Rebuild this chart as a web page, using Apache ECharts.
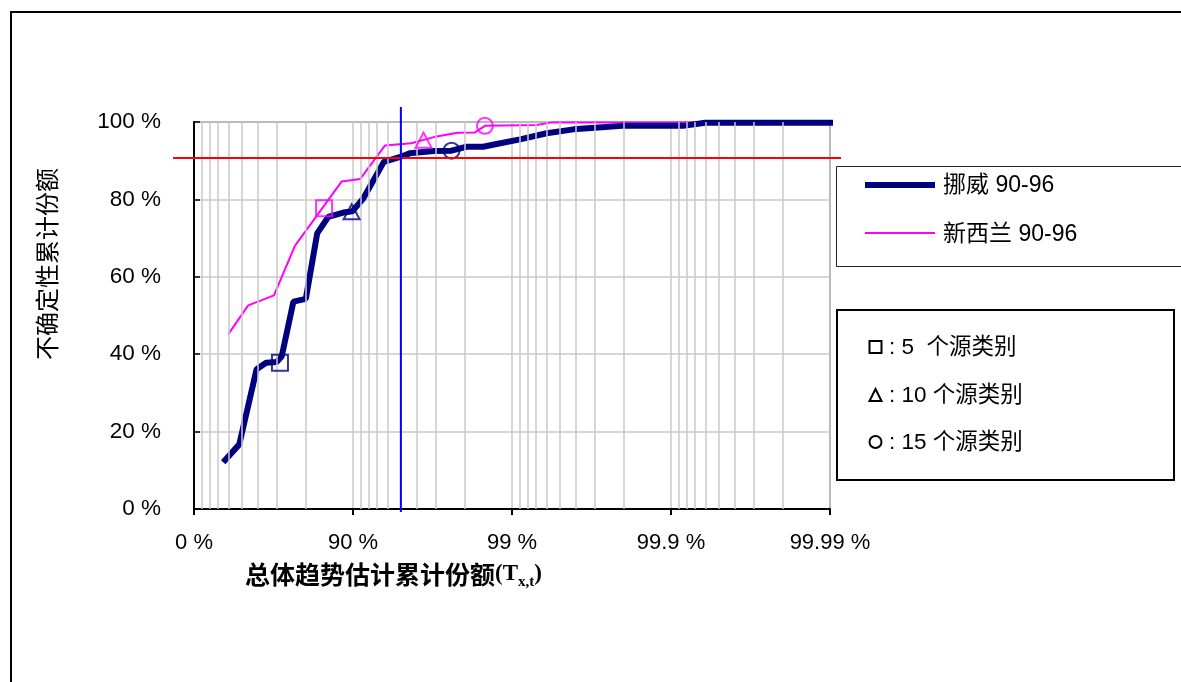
<!DOCTYPE html>
<html><head><meta charset="utf-8">
<script src="https://cdn.jsdelivr.net/npm/echarts@6/dist/echarts.min.js"></script>
<style>html,body{margin:0;padding:0;background:#fff}#c{width:1181px;height:682px}</style>
</head><body><div id="c"></div>
<script>
// ---- data (T = cumulative share of total trend estimate, %; share = cumulative uncertainty share, %) ----
const xTickLabels = ['0 %', '90 %', '99 %', '99.9 %', '99.99 %'];
const seriesNames = ['挪威 90-96', '新西兰 90-96'];
const norwayT = [34.5, 48.1, 59.6, 64.8, 69.8, 71.9, 76.3, 80.2, 83.2, 85.7, 88.5, 89.9, 91.4, 93.6, 94.9, 95.6, 96.9, 97.6, 98.07, 98.48, 98.75, 99.11, 99.395, 99.589, 99.70, 99.796, 99.916, 99.939, 99.991];
const norwayShare = [12.1, 16.7, 36.1, 37.8, 38.0, 39.4, 53.6, 54.3, 71.2, 75.5, 76.6, 76.9, 80.3, 89.7, 90.9, 91.9, 92.5, 92.6, 93.6, 93.6, 94.3, 95.5, 97.1, 98.1, 98.5, 99.0, 99.0, 99.8, 99.8];
const nzT = [39.2, 54.4, 68.6, 76.8, 88.2, 91.0, 93.7, 95.7, 96.9, 97.8, 98.29, 98.52, 99.30, 99.44, 99.991];
const nzShare = [45.2, 52.6, 55.2, 68.0, 84.6, 85.3, 93.9, 94.5, 96.1, 97.2, 97.3, 99.0, 99.2, 99.9, 99.9];
const markerLabels = [': 5  个源类别', ': 10 个源类别', ': 15 个源类别'];
const markerSymbols = ['rect', 'triangle', 'circle'];
const norwayMarkerT = [71.2, 89.8, 97.6];
const norwayMarkerShare = [37.8, 76.8, 92.6];
const nzMarkerT = [84.8, 96.4, 98.52];
const nzMarkerShare = [77.7, 95.3, 99.0];
const thresholdShare = 90.7;
const thresholdT = 95;
const yTitle = '不确定性累计份额';

const NAVY = '#000080', MAG = '#ff00ff';
const toAxis = T => -Math.log10(1 - T / 100);
const pts = (xs, ys) => xs.map((t, i) => [toAxis(t), ys[i]]);

// minor (log) grid positions within each decade of (1 - T)
const minorPos = [];
for (let d = 0; d < 4; d++) for (let k = 9; k >= 2; k--) minorPos.push(d - Math.log10(k / 10));

const latin = 'Liberation Sans, Arial, sans-serif';
const cjk = 'Liberation Sans, "Noto Sans CJK SC", sans-serif';

const chart = echarts.init(document.getElementById('c'));
const markerSeries = (name, xs, ys, color) => markerSymbols.map((s, i) => ({
  type: 'scatter', name: name + i, data: [[toAxis(xs[i]), ys[i]]], symbol: s,
  symbolSize: s === 'triangle' ? [16, 15] : 16,
  itemStyle: { color: 'rgba(0,0,0,0)', borderColor: color, borderWidth: 2 },
  z: 5, silent: true, clip: false
}));

chart.setOption({
  animation: false,
  backgroundColor: '#fff',
  grid: { left: 194, right: 351, top: 122, bottom: 173, show: true, borderColor: '#8a8a8a', borderWidth: 2, backgroundColor: 'rgba(0,0,0,0)' },
  xAxis: {
    type: 'value', min: 0, max: 4, interval: 1,
    axisLine: { lineStyle: { color: '#000', width: 2 } },
    axisTick: { show: true, length: 6, lineStyle: { color: '#000', width: 2 } },
    axisLabel: { formatter: v => xTickLabels[Math.round(v)], fontFamily: latin, fontSize: 22, color: '#000', margin: 23 },
    splitLine: { show: true, lineStyle: { color: '#c8c8c8', width: 1.5 } }
  },
  yAxis: {
    type: 'value', min: 0, max: 100, interval: 20,
    axisLine: { lineStyle: { color: '#000', width: 2 } },
    axisTick: { show: true, inside: true, length: 6, lineStyle: { color: '#000', width: 1.5 } },
    axisLabel: { formatter: '{value} %', fontFamily: latin, fontSize: 22.5, color: '#000', margin: 33 },
    splitLine: { show: true, lineStyle: { color: '#c8c8c8', width: 1.5 } }
  },
  series: [
    { type: 'line', name: 'minorgrid', data: [], silent: true, z: 1,
      markLine: { symbol: 'none', silent: true, label: { show: false }, animation: false,
        lineStyle: { color: '#c8c8c8', width: 1.5, type: 'solid' },
        data: minorPos.map(v => ({ xAxis: v })) } },
    { type: 'line', name: seriesNames[1], data: pts(nzT, nzShare), symbol: 'none', clip: false,
      lineStyle: { color: MAG, width: 2 }, z: 3 },
    { type: 'line', name: seriesNames[0], data: pts(norwayT, norwayShare), symbol: 'none', clip: false,
      lineStyle: { color: NAVY, width: 6 }, z: 4 },
    ...markerSeries('n', norwayMarkerT, norwayMarkerShare, NAVY),
    ...markerSeries('z', nzMarkerT, nzMarkerShare, MAG)
  ]
});

const p = (x, y) => chart.convertToPixel({ gridIndex: 0 }, [x, y]);
const yRed = p(0, thresholdShare)[1];
const xBlue = p(toAxis(thresholdT), 0)[0];
const gl = p(0, 0)[0], gr = p(4, 0)[0], gt = p(0, 100)[1], gb = p(0, 0)[1];

const g = [];
// outer frame
g.push({ type: 'rect', shape: { x: 11, y: 12, width: 1200, height: 700 }, style: { fill: 'none', stroke: '#000', lineWidth: 2 }, z: 0, silent: true });
// reference lines
g.push({ type: 'line', shape: { x1: gl - 21, y1: yRed, x2: gr + 11, y2: yRed }, style: { stroke: '#ff0000', lineWidth: 2 }, z: 100 });
g.push({ type: 'line', shape: { x1: xBlue, y1: gt - 15, x2: xBlue, y2: gb + 3 }, style: { stroke: '#0000ff', lineWidth: 2 }, z: 100 });
// y axis title
g.push({ type: 'text', x: 47, y: 264, rotation: Math.PI / 2, z: 100, style: {
  text: yTitle, font: '24px "Noto Sans CJK SC", sans-serif', fill: '#000', align: 'center', verticalAlign: 'middle' } });
// x axis title
g.push({ type: 'text', left: 245, top: 562, z: 100, style: {
  text: '{a|总体趋势估计累计份额}{b|(T}{c|x,t}{b|)}',
  rich: {
    a: { fontFamily: '"Noto Sans CJK SC", sans-serif', fontWeight: 'bold', fontSize: 25, lineHeight: 30, verticalAlign: 'middle', fill: '#000' },
    b: { fontFamily: 'Liberation Serif, serif', fontWeight: 'bold', fontSize: 23, lineHeight: 30, verticalAlign: 'middle', fill: '#000' },
    c: { fontFamily: 'Liberation Serif, serif', fontWeight: 'bold', fontSize: 15, lineHeight: 14, verticalAlign: 'bottom', fill: '#000' }
  } } });
// legend box 1
g.push({ type: 'rect', shape: { x: 836.5, y: 166.5, width: 360, height: 100 }, style: { fill: '#fff', stroke: '#222', lineWidth: 1 }, z: 90 });
g.push({ type: 'line', shape: { x1: 865, y1: 185, x2: 935, y2: 185 }, style: { stroke: NAVY, lineWidth: 6 }, z: 91 });
g.push({ type: 'line', shape: { x1: 865, y1: 233, x2: 935, y2: 233 }, style: { stroke: MAG, lineWidth: 2 }, z: 91 });
g.push({ type: 'text', x: 943, y: 186, z: 91, style: { text: seriesNames[0], font: '23px ' + cjk, fill: '#000', verticalAlign: 'middle' } });
g.push({ type: 'text', x: 943, y: 235, z: 91, style: { text: seriesNames[1], font: '23px ' + cjk, fill: '#000', verticalAlign: 'middle' } });
// legend box 2
g.push({ type: 'rect', shape: { x: 837, y: 310, width: 337, height: 170 }, style: { fill: '#fff', stroke: '#000', lineWidth: 2 }, z: 90 });
const rowY = [347, 395, 442];
g.push({ type: 'rect', shape: { x: 869.5, y: rowY[0] - 6, width: 12, height: 12 }, style: { fill: 'none', stroke: '#000', lineWidth: 2 }, z: 91 });
g.push({ type: 'polygon', shape: { points: [[875.5, rowY[1] - 6], [881.5, rowY[1] + 6], [869.5, rowY[1] + 6]] }, style: { fill: 'none', stroke: '#000', lineWidth: 2 }, z: 91 });
g.push({ type: 'circle', shape: { cx: 875.5, cy: rowY[2], r: 6 }, style: { fill: 'none', stroke: '#000', lineWidth: 2 }, z: 91 });
markerLabels.forEach((t, i) => g.push({ type: 'text', x: 889, y: rowY[i] + 1, z: 91, style: { text: t, font: '22.5px ' + cjk, fill: '#000', verticalAlign: 'middle' } }));

chart.setOption({ graphic: g });
</script></body></html>
